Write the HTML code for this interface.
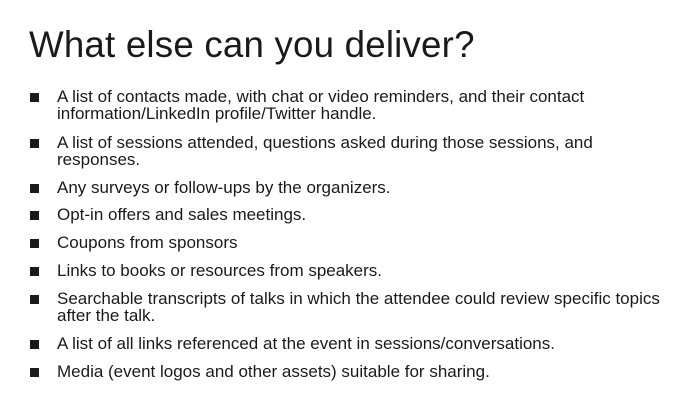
<!DOCTYPE html>
<html>
<head>
<meta charset="utf-8">
<style>
  html, body { margin: 0; padding: 0; }
  body {
    width: 696px; height: 417px; background: #ffffff; position: relative; overflow: hidden;
    font-family: "Liberation Sans", sans-serif; color: #1a1a1a;
  }
  .title {
    position: absolute; left: 29px; top: 23px; font-size: 36.7px; line-height: 44px;
    white-space: nowrap; color: #1a1a1a; letter-spacing: 0.2px;
  }
  .item {
    position: absolute; left: 57px; font-size: 17px; line-height: 16.5px; white-space: nowrap;
  }
  .bullet {
    position: absolute; left: 30px; width: 9px; height: 9px; background: #1a1a1a;
  }
</style>
</head>
<body>
  <div class="title">What else can you deliver?</div>

  <div class="bullet" style="top:93px"></div>
  <div class="item" style="top:89px">A list of contacts made, with chat or video reminders, and their contact<br>information/LinkedIn profile/Twitter handle.</div>

  <div class="bullet" style="top:139px"></div>
  <div class="item" style="top:135px">A list of sessions attended, questions asked during those sessions, and<br>responses.</div>

  <div class="bullet" style="top:184px"></div>
  <div class="item" style="top:180px">Any surveys or follow-ups by the organizers.</div>

  <div class="bullet" style="top:211px"></div>
  <div class="item" style="top:207px">Opt-in offers and sales meetings.</div>

  <div class="bullet" style="top:239px"></div>
  <div class="item" style="top:235px">Coupons from sponsors</div>

  <div class="bullet" style="top:267px"></div>
  <div class="item" style="top:263px">Links to books or resources from speakers.</div>

  <div class="bullet" style="top:295px"></div>
  <div class="item" style="top:291px">Searchable transcripts of talks in which the attendee could review specific topics<br>after the talk.</div>

  <div class="bullet" style="top:340px"></div>
  <div class="item" style="top:336px">A list of all links referenced at the event in sessions/conversations.</div>

  <div class="bullet" style="top:368px"></div>
  <div class="item" style="top:364px">Media (event logos and other assets) suitable for sharing.</div>
</body>
</html>
